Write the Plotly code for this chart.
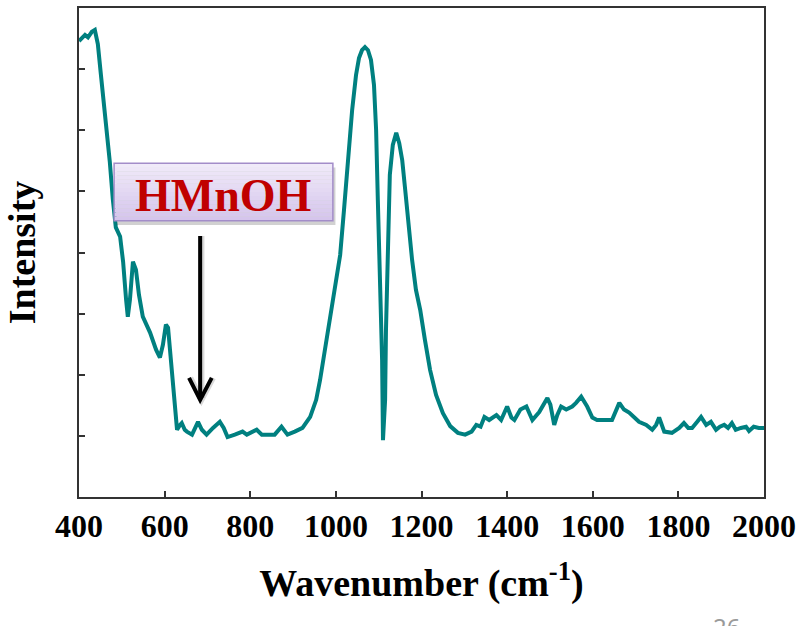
import plotly.graph_objects as go

# ---- data ----
wavenumber = [400, 414, 421, 430, 437, 444, 451, 461, 472, 479, 486, 496, 503, 510, 514, 519, 526, 533,
              540, 549, 566, 580, 589, 596, 603, 608, 615, 622, 629, 636, 640, 647, 652, 664, 671, 678,
              687, 698, 713, 729, 738, 747, 764, 782, 792, 803, 815, 827, 838, 857, 873, 887, 904, 922,
              940, 954, 963, 975, 987, 1000, 1010, 1019, 1028, 1038, 1047, 1054, 1061, 1068, 1075, 1082,
              1089, 1094, 1098, 1103, 1108, 1110, 1115, 1117, 1122, 1126, 1133, 1141, 1148, 1155, 1162,
              1169, 1178, 1187, 1197, 1208, 1220, 1234, 1250, 1267, 1285, 1302,
              1317, 1328, 1338, 1347, 1358, 1375, 1386, 1400, 1410,
              1417, 1431, 1445, 1459, 1475, 1494, 1501, 1510, 1517, 1526, 1538, 1552, 1561, 1573, 1587,
              1599, 1610, 1627, 1645, 1662, 1673, 1685, 1697, 1708, 1725, 1739, 1748, 1755, 1767, 1785,
              1802, 1813, 1823, 1832, 1844, 1853, 1865, 1876, 1888, 1897, 1907, 1916, 1925, 1934, 1946,
              1958, 1965, 1976, 1988, 1997, 2000]
intensity = [7.46, 7.56, 7.52, 7.61, 7.64, 7.41, 6.92, 6.26, 5.48, 4.87, 4.41, 4.26, 3.85, 3.23, 2.95,
             3.23, 3.85, 3.72, 3.31, 2.95, 2.69, 2.41, 2.28, 2.49, 2.82, 2.77, 2.25, 1.59, 1.10, 1.18,
             1.21, 1.10, 1.07, 1.02, 1.13, 1.23, 1.10, 1.02, 1.13, 1.23, 1.13, 0.98, 1.02, 1.07, 1.02,
             1.05, 1.10, 1.02, 1.02, 1.02, 1.15, 1.02, 1.07, 1.13,
             1.31, 1.59, 1.91, 2.41, 2.98, 3.55, 3.96, 4.70, 5.52, 6.33, 6.90, 7.18, 7.31, 7.36, 7.31, 7.15,
             6.74, 6.00, 4.86, 3.55, 2.24, 0.93, 1.59, 2.73, 4.32, 5.27, 5.76, 5.96, 5.79, 5.51, 5.02,
             4.45, 3.88, 3.39, 3.06, 2.57, 2.08, 1.67, 1.37, 1.16, 1.05, 1.02,
             1.07, 1.18, 1.15, 1.31, 1.26, 1.34, 1.26, 1.48, 1.30, 1.26, 1.43, 1.48, 1.26, 1.39,
             1.62, 1.51, 1.18, 1.34, 1.48, 1.43, 1.48, 1.54, 1.64, 1.48, 1.30, 1.26, 1.26, 1.26, 1.54,
             1.43, 1.38, 1.30, 1.23, 1.18, 1.10, 1.18, 1.30, 1.07, 1.05, 1.13, 1.21, 1.13, 1.13, 1.23,
             1.31, 1.18, 1.23, 1.10, 1.15, 1.18, 1.13, 1.21, 1.10, 1.13, 1.15, 1.08, 1.15, 1.13, 1.13,
             1.13]
x_ticks = [400, 600, 800, 1000, 1200, 1400, 1600, 1800, 2000]
label_text = "HMnOH"
arrow_x = 683
arrow_top, arrow_tip = 4.27, 1.59

SERIF = "Liberation Serif, Times New Roman, serif"
AXIS_COLOR = "#333333"

fig = go.Figure()
fig.add_trace(go.Scatter(x=wavenumber, y=intensity, mode="lines",
                         line=dict(color="#008080", width=4), showlegend=False, hoverinfo="skip"))

# label box with vertical gradient (stacked strips), shadow and border
bx0, bx1, by0, by1 = 482, 993, 4.52, 5.46
shapes = [dict(type="rect", xref="x", yref="y", x0=bx0 + 6, x1=bx1 + 6, y0=by0 - 0.07, y1=by1 - 0.07,
               fillcolor="rgba(0,0,0,0.18)", line=dict(width=0), layer="above")]
n = 14
top_c = (240, 234, 249)
bot_c = (213, 197, 236)
for i in range(n):
    t = i / (n - 1)
    c = tuple(int(round(top_c[k] + (bot_c[k] - top_c[k]) * t)) for k in range(3))
    y1 = by1 - (by1 - by0) * i / n
    y0 = by1 - (by1 - by0) * (i + 1) / n
    shapes.append(dict(type="rect", xref="x", yref="y", x0=bx0, x1=bx1, y0=y0, y1=y1,
                       fillcolor="rgb(%d,%d,%d)" % c, line=dict(width=0), layer="above"))
shapes.append(dict(type="rect", xref="x", yref="y", x0=bx0, x1=bx1, y0=by0, y1=by1,
                   fillcolor="rgba(0,0,0,0)", line=dict(color="#A38DC9", width=1.5), layer="above"))
# arrow (shadow + line + chevron)
for dx, col, w in [(3, "rgba(0,0,0,0.15)", 6), (0, "black", 4)]:
    shapes.append(dict(type="line", xref="x", yref="y", x0=arrow_x + dx, x1=arrow_x + dx,
                       y0=arrow_top, y1=arrow_tip + 0.03, line=dict(color=col, width=w), layer="above"))
    shapes.append(dict(type="path", xref="x", yref="y",
                       path="M %f %f L %f %f L %f %f" % (arrow_x - 26 + dx, arrow_tip + 0.36,
                                                          arrow_x + dx, arrow_tip,
                                                          arrow_x + 27 + dx, arrow_tip + 0.36),
                       line=dict(color=col, width=w), layer="above"))

plot_h = 626 - 8 - 129
plot_w = 801 - 79 - 37

fig.update_layout(
    width=801, height=626,
    margin=dict(l=79, r=37, t=8, b=129),
    paper_bgcolor="white", plot_bgcolor="white",
    shapes=shapes,
    annotations=[
        dict(text=label_text, x=(bx0 + bx1) / 2, y=4.93, xref="x", yref="y", showarrow=False,
             font=dict(family=SERIF, size=46, color="#C00000", weight="bold")),
        dict(text="26", x=(726 - 79) / plot_w, y=(497 - 608) / plot_h, xref="paper", yref="paper",
             showarrow=False, xanchor="center", yanchor="top",
             font=dict(family="Noto Sans, sans-serif", size=24, color="#9a9a9a")),
    ],
)

fig.update_xaxes(range=[400, 2000], tickvals=x_ticks, ticktext=[str(v) for v in x_ticks],
                 ticks="inside", ticklen=6, tickwidth=1.5, tickcolor=AXIS_COLOR,
                 showline=True, linecolor=AXIS_COLOR, linewidth=2, mirror=True,
                 showgrid=False, zeroline=False, automargin=False,
                 tickfont=dict(family=SERIF, size=32, color="black", weight="bold"),
                 title=dict(text="Wavenumber (cm<sup>-1</sup>)", standoff=26,
                            font=dict(family=SERIF, size=38, color="black", weight="bold")))
fig.update_yaxes(range=[0, 8], dtick=1, showticklabels=False,
                 ticks="inside", ticklen=6, tickwidth=1.5, tickcolor=AXIS_COLOR,
                 showline=True, linecolor=AXIS_COLOR, linewidth=2, mirror=True,
                 showgrid=False, zeroline=False, automargin=False,
                 title=dict(text="Intensity", standoff=30,
                            font=dict(family=SERIF, size=38, color="black", weight="bold")))

fig.write_html("out.html")
